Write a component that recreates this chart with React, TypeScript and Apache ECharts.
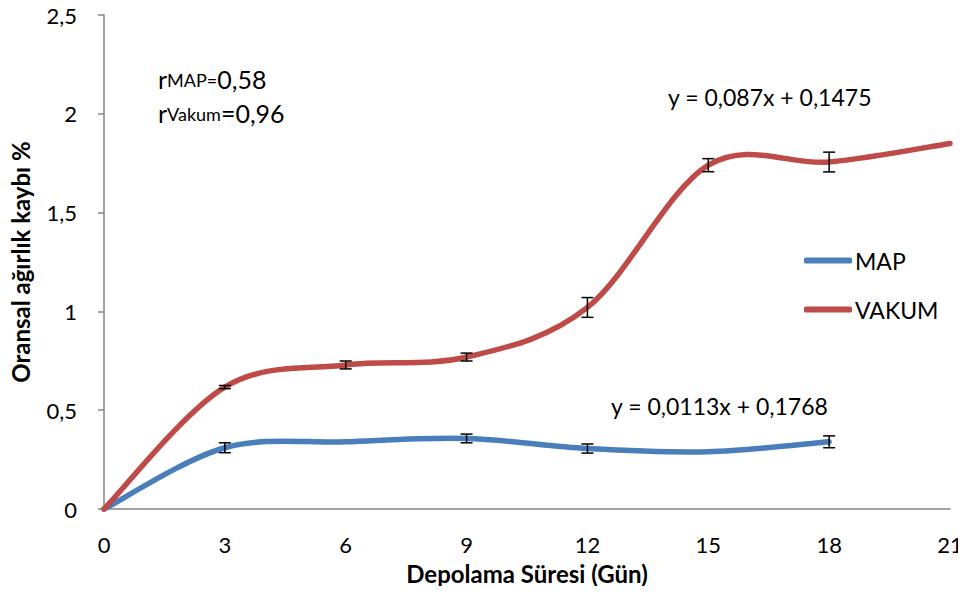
import React, { useEffect, useRef } from "react";
import * as echarts from "echarts";

const days = [0, 3, 6, 9, 12, 15, 18, 21];
const mapValues = [0, 0.31, 0.34, 0.357, 0.306, 0.29, 0.34];
const mapErrors = [0, 0.025, 0, 0.022, 0.023, 0, 0.03];
const vakumValues = [0, 0.617, 0.729, 0.769, 1.02, 1.74, 1.756, 1.85];
const vakumErrors = [0, 0.008, 0.02, 0.02, 0.05, 0.033, 0.05, 0];
const xTicks = [0, 3, 6, 9, 12, 15, 18, 21];
const yTicks = [0, 0.5, 1, 1.5, 2, 2.5];

const BLUE = "#4A7EBB";
const RED = "#BE4B48";
const FONT = "Lato";

function smoothPath(pts: number[][]): string {
  let d = `M${pts[0][0]},${pts[0][1]}`;
  for (let i = 0; i < pts.length - 1; i++) {
    const p0 = pts[i - 1] || pts[i];
    const p1 = pts[i];
    const p2 = pts[i + 1];
    const p3 = pts[i + 2] || pts[i + 1];
    const c1x = p1[0] + (p2[0] - p0[0]) / 6;
    const c1y = p1[1] + (p2[1] - p0[1]) / 6;
    const c2x = p2[0] - (p3[0] - p1[0]) / 6;
    const c2y = p2[1] - (p3[1] - p1[1]) / 6;
    d += ` C${c1x},${c1y} ${c2x},${c2y} ${p2[0]},${p2[1]}`;
  }
  return d;
}

function curveSeries(name: string, values: number[], color: string) {
  return {
    name,
    type: "custom",
    coordinateSystem: "cartesian2d",
    itemStyle: { color },
    data: [[days[0], values[0]]],
    z: 2,
    renderItem: (params: any, api: any) => {
      const pts = values.map((v, i) => api.coord([days[i], v]));
      return {
        type: "path",
        shape: { pathData: smoothPath(pts) },
        style: { fill: null, stroke: color, lineWidth: 5.5, lineCap: "round", lineJoin: "round" },
      };
    },
  };
}

function errorSeries(name: string, values: number[], errors: number[]) {
  return {
    name: name + "-err",
    type: "custom",
    coordinateSystem: "cartesian2d",
    z: 5,
    data: values.map((v, i) => [days[i], v, errors[i]]),
    renderItem: (params: any, api: any) => {
      const x = api.value(0);
      const y = api.value(1);
      const e = api.value(2);
      if (!e) return { type: "group", children: [] };
      const top = api.coord([x, y + e]);
      const bot = api.coord([x, y - e]);
      const w = 6;
      const st = { stroke: "#000", lineWidth: 1.5 };
      return {
        type: "group",
        children: [
          { type: "line", shape: { x1: top[0], y1: top[1], x2: bot[0], y2: bot[1] }, style: st },
          { type: "line", shape: { x1: top[0] - w, y1: top[1], x2: top[0] + w, y2: top[1] }, style: st },
          { type: "line", shape: { x1: bot[0] - w, y1: bot[1], x2: bot[0] + w, y2: bot[1] }, style: st },
        ],
      };
    },
  };
}

export default function App() {
  const ref = useRef<HTMLDivElement>(null);
  useEffect(() => {
    if (!ref.current) return;
    const chart = echarts.init(ref.current, null, { renderer: "svg" });
    const rich = {
      r: { fontSize: 25, fontFamily: FONT, color: "#000", verticalAlign: "bottom" },
      s: { fontSize: 18, fontFamily: FONT, color: "#000", verticalAlign: "bottom", padding: [0, 0, 2, 0] },
      v: { fontSize: 25, fontFamily: FONT, color: "#000", verticalAlign: "bottom" },
    };
    chart.setOption({
      animation: false,
      backgroundColor: "#fff",
      grid: { left: 104, right: 16, top: 15, bottom: 85, containLabel: false },
      legend: {
        orient: "vertical",
        left: 799,
        top: 244,
        itemWidth: 48,
        itemHeight: 6,
        itemGap: 26,
        icon: "roundRect",
        data: ["MAP", "VAKUM"],
        textStyle: { fontFamily: FONT, fontSize: 23, color: "#000", padding: [0, 0, 0, -2] },
      },
      xAxis: {
        type: "value",
        min: xTicks[0],
        max: xTicks[xTicks.length - 1],
        interval: 3,
        name: "Depolama Süresi (Gün)",
        nameLocation: "middle",
        nameGap: 52,
        nameTextStyle: { fontFamily: FONT, fontWeight: "bold", fontSize: 24, color: "#000" },
        axisLine: { show: true, lineStyle: { color: "#868686", width: 1.5 } },
        axisTick: { show: false },
        splitLine: { show: false },
        axisLabel: { margin: 24, fontFamily: FONT, fontSize: 22, color: "#000" },
      },
      yAxis: {
        type: "value",
        min: yTicks[0],
        max: yTicks[yTicks.length - 1],
        interval: 0.5,
        name: "Oransal ağırlık kaybı %",
        nameLocation: "middle",
        nameGap: 72,
        nameRotate: 90,
        nameTextStyle: { fontFamily: FONT, fontWeight: "bold", fontSize: 24, color: "#000" },
        axisLine: { show: true, lineStyle: { color: "#868686", width: 1.5 } },
        axisTick: { show: true, length: 6, lineStyle: { color: "#868686", width: 1.5 } },
        splitLine: { show: false },
        axisLabel: {
          margin: 27,
          fontFamily: FONT,
          fontSize: 22,
          color: "#000",
          formatter: (v: number) => String(v).replace(".", ","),
        },
      },
      graphic: [
        {
          type: "text",
          left: 158,
          top: 66,
          style: { text: "{r|r}{s|MAP=}{v|0,58}", rich },
        },
        {
          type: "text",
          left: 158,
          top: 100,
          style: { text: "{r|r}{s|Vakum}{v|=0,96}", rich },
        },
        {
          type: "text",
          left: 668,
          top: 85,
          style: { text: "y = 0,087x + 0,1475", fontFamily: FONT, fontSize: 23, fill: "#000" },
        },
        {
          type: "text",
          left: 611,
          top: 394,
          style: { text: "y = 0,0113x + 0,1768", fontFamily: FONT, fontSize: 23, fill: "#000" },
        },
      ],
      series: [
        curveSeries("MAP", mapValues, BLUE),
        curveSeries("VAKUM", vakumValues, RED),
        errorSeries("MAP", mapValues, mapErrors),
        errorSeries("VAKUM", vakumValues, vakumErrors),
      ],
    });
    return () => chart.dispose();
  }, []);
  return <div ref={ref} style={{ width: 966, height: 594, margin: -8 }} />;
}
